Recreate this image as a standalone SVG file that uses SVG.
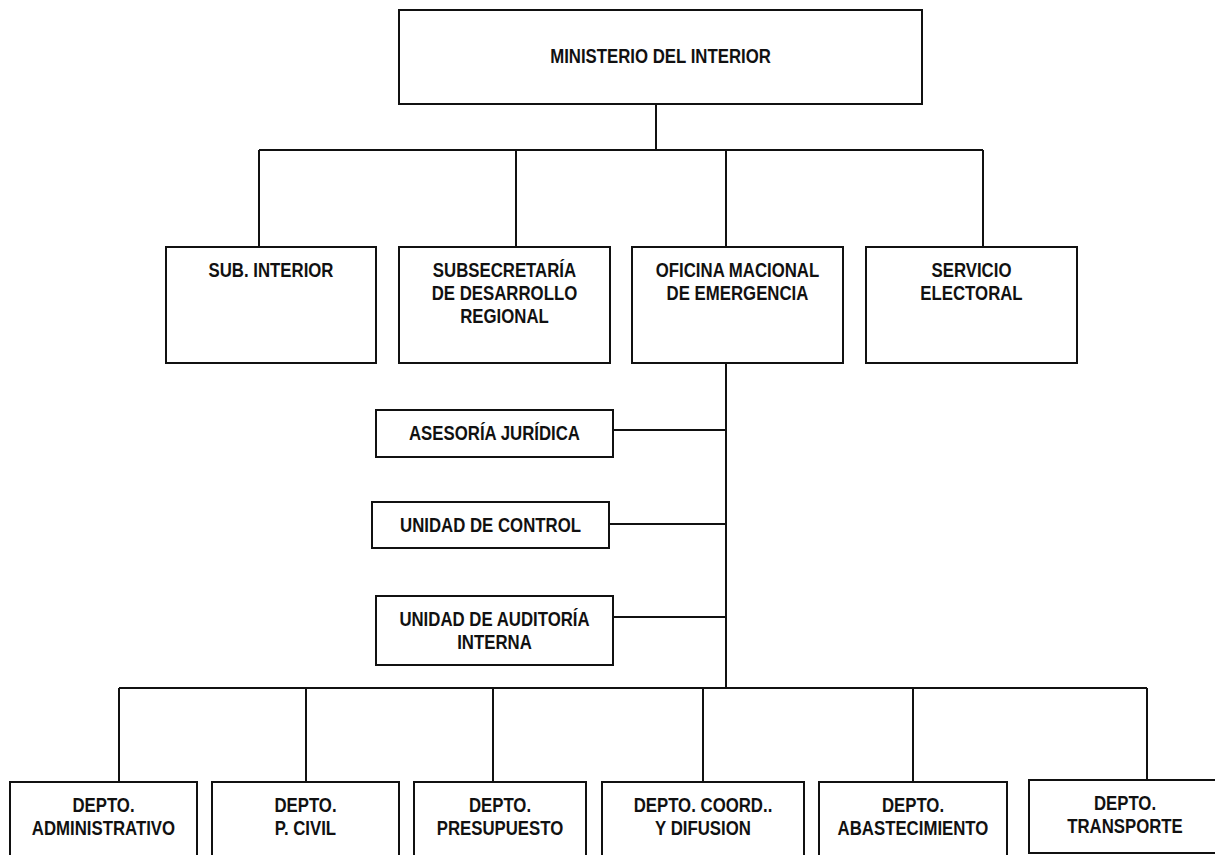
<svg xmlns="http://www.w3.org/2000/svg" width="1215" height="855" viewBox="0 0 1215 855">
<style>
.box{fill:#fff;stroke:#111;stroke-width:2}
.ln{fill:none;stroke:#111;stroke-width:2}
text{font-family:"Liberation Sans Narrow","Liberation Sans",Arial,sans-serif;font-weight:bold;font-size:20px;fill:#111;text-anchor:middle;transform:scale(0.84,1)}
</style>
<rect width="1215" height="855" fill="#fff"/>
<g id="connectors">
<path class="ln" d="M656 104V150M259 150H983M259 150V247M516 150V247M726 150V247M983 150V247"/>
<path class="ln" d="M726 363V688M613 430H726M609 524H726M613 617H726"/>
<path class="ln" d="M119 688H1147M119 688V782M306 688V782M493 688V782M703 688V782M913 688V782M1147 688V780"/>
</g>
<g id="ministerio"><rect class="box" x="399" y="10" width="523" height="94"/><text x="786.31" y="63">MINISTERIO DEL INTERIOR</text></g>
<g id="sub-interior"><rect class="box" x="166" y="247" width="210" height="116"/><text x="322.62" y="277">SUB. INTERIOR</text></g>
<g id="subdere"><rect class="box" x="399" y="247" width="211" height="116"/><text x="600.6" y="277">SUBSECRETARÍA</text><text x="600.6" y="300">DE DESARROLLO</text><text x="600.6" y="323">REGIONAL</text></g>
<g id="onemi"><rect class="box" x="632" y="247" width="211" height="116"/><text x="877.98" y="277">OFICINA MACIONAL</text><text x="877.98" y="300">DE EMERGENCIA</text></g>
<g id="servel"><rect class="box" x="866" y="247" width="211" height="116"/><text x="1156.55" y="277">SERVICIO</text><text x="1156.55" y="300">ELECTORAL</text></g>
<g id="asesoria"><rect class="box" x="376" y="410" width="237" height="47"/><text x="588.69" y="440">ASESORÍA JURÍDICA</text></g>
<g id="control"><rect class="box" x="372" y="502" width="237" height="46"/><text x="583.93" y="532">UNIDAD DE CONTROL</text></g>
<g id="auditoria"><rect class="box" x="376" y="596" width="237" height="69"/><text x="588.69" y="626">UNIDAD DE AUDITORÍA</text><text x="588.69" y="649">INTERNA</text></g>
<g id="administrativo"><rect class="box" x="10" y="782" width="187" height="90"/><text x="123.21" y="812">DEPTO.</text><text x="123.21" y="835">ADMINISTRATIVO</text></g>
<g id="pcivil"><rect class="box" x="212" y="782" width="187" height="90"/><text x="363.69" y="812">DEPTO.</text><text x="363.69" y="835">P. CIVIL</text></g>
<g id="presupuesto"><rect class="box" x="414" y="782" width="172" height="90"/><text x="595.24" y="812">DEPTO.</text><text x="595.24" y="835">PRESUPUESTO</text></g>
<g id="coord"><rect class="box" x="602" y="782" width="202" height="90"/><text x="836.9" y="812">DEPTO. COORD..</text><text x="836.9" y="835">Y DIFUSION</text></g>
<g id="abastecimiento"><rect class="box" x="819" y="782" width="188" height="90"/><text x="1086.9" y="812">DEPTO.</text><text x="1086.9" y="835">ABASTECIMIENTO</text></g>
<g id="transporte"><rect class="box" x="1029" y="780" width="200" height="73"/><text x="1339.29" y="810">DEPTO.</text><text x="1339.29" y="833">TRANSPORTE</text></g>
</svg>
